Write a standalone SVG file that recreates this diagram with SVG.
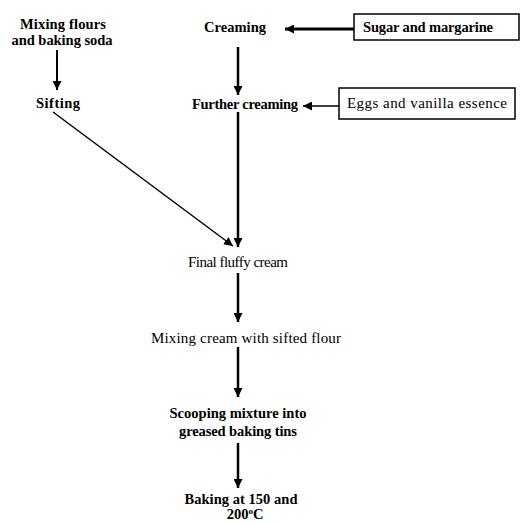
<svg xmlns="http://www.w3.org/2000/svg" width="521" height="523" viewBox="0 0 521 523">
<defs>
<style>
text{font-family:"Liberation Serif","Times New Roman",serif;font-size:15px;fill:#000;text-anchor:middle}
.b{font-weight:bold;font-size:14.5px}
.box{fill:#fff;stroke:#000;stroke-width:1.5}
.c{stroke:#000;fill:none}
</style>
<marker id="ah" markerUnits="userSpaceOnUse" viewBox="0 0 10 10" refX="10" refY="5" markerWidth="9" markerHeight="9" orient="auto">
<path d="M0,0 L10,5 L0,10 Z" fill="#000"/>
</marker>
</defs>
<rect width="521" height="523" fill="#fff"/>
<g id="connectors">
<line class="c" x1="57" y1="50" x2="57" y2="90" stroke-width="2" marker-end="url(#ah)"/>
<line class="c" x1="238" y1="47" x2="238" y2="95" stroke-width="2.5" marker-end="url(#ah)"/>
<line class="c" x1="354" y1="29" x2="285" y2="29" stroke-width="3" marker-end="url(#ah)"/>
<line class="c" x1="339" y1="106" x2="303" y2="106" stroke-width="1.5" marker-end="url(#ah)"/>
<line class="c" x1="238" y1="112" x2="238" y2="247" stroke-width="2.5" marker-end="url(#ah)"/>
<line class="c" x1="53" y1="112" x2="233" y2="246" stroke-width="1.5" marker-end="url(#ah)"/>
<line class="c" x1="238" y1="273" x2="238" y2="322" stroke-width="2.5" marker-end="url(#ah)"/>
<line class="c" x1="238" y1="347" x2="238" y2="397" stroke-width="2.5" marker-end="url(#ah)"/>
<line class="c" x1="238" y1="443" x2="238" y2="488" stroke-width="2.5" marker-end="url(#ah)"/>
</g>
<g id="mixing-flours"><text class="b" x="63" y="29" textLength="86">Mixing flours</text><text class="b" x="62" y="45" textLength="101">and baking soda</text></g>
<g id="sifting"><text class="b" x="58" y="108" textLength="44">Sifting</text></g>
<g id="creaming"><text class="b" x="235" y="32" textLength="62">Creaming</text></g>
<g id="sugar-margarine"><rect class="box" x="354" y="14" width="165" height="26"/><text class="b" x="428" y="32" textLength="130">Sugar and margarine</text></g>
<g id="further-creaming"><text class="b" x="245" y="109" textLength="106">Further creaming</text></g>
<g id="eggs-vanilla"><rect class="box" x="339" y="88" width="176" height="31"/><text x="427" y="108" textLength="160">Eggs and vanilla essence</text></g>
<g id="final-fluffy-cream"><text x="238" y="267" textLength="100">Final fluffy cream</text></g>
<g id="mixing-cream"><text x="246" y="343" textLength="190">Mixing cream with sifted flour</text></g>
<g id="scooping"><text class="b" x="238" y="418" textLength="137">Scooping mixture into</text><text class="b" x="238" y="436" textLength="118">greased baking tins</text></g>
<g id="baking"><text class="b" x="241" y="504" textLength="113">Baking at 150 and</text><text class="b" x="245" y="519">200<tspan font-size="9" dy="-5">o</tspan><tspan dy="5">C</tspan></text></g>
</svg>
